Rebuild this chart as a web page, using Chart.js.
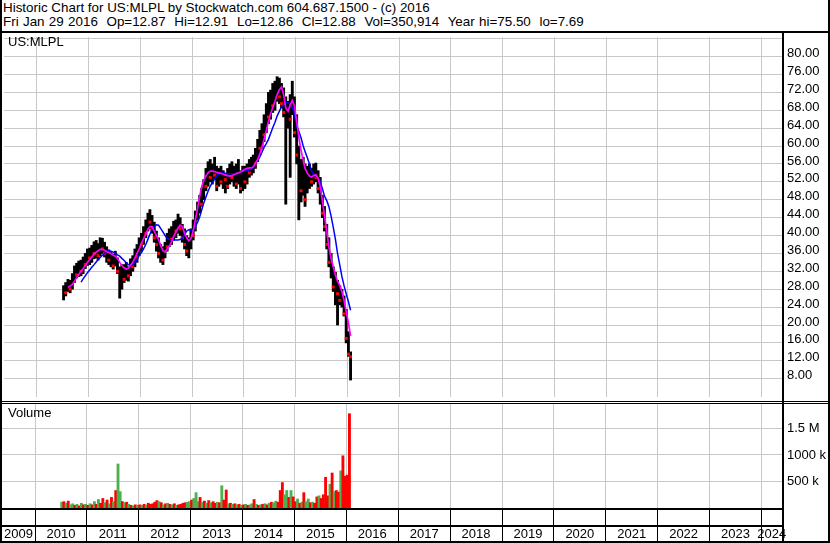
<!DOCTYPE html>
<html>
<head>
<meta charset="utf-8">
<title>US:MLPL historic chart</title>
<script src="https://cdn.jsdelivr.net/npm/chart.js@4.4.1/dist/chart.umd.min.js"></script>
<style>
  html, body { margin:0; padding:0; background:#fff; }
  #wrap { position:relative; width:830px; height:543px; overflow:hidden; background:#fff;
          font-family:"Liberation Sans", Arial, sans-serif; color:#000; }
  .txt { position:absolute; font-size:13px; line-height:15px; white-space:pre; color:#000; }
  .hdr { font-size:13.4px; }
  .ln { position:absolute; background:#000; }
  canvas { position:absolute; left:0; }
</style>
</head>
<body>
<div id="wrap">
  <canvas id="priceCanvas" width="830" height="368" style="top:33px;width:830px;height:368px"></canvas>
  <canvas id="volCanvas" width="830" height="142" style="top:401px;width:830px;height:142px"></canvas>
  <div class="txt hdr" style="left:3px;top:0px">Historic Chart for US:MLPL by Stockwatch.com 604.687.1500 - (c) 2016</div>
  <div class="txt hdr" style="left:3px;top:14px;word-spacing:0.6px">Fri Jan 29 2016  Op=12.87  Hi=12.91  Lo=12.86  Cl=12.88  Vol=350,914  Year hi=75.50  lo=7.69</div>
  <div class="txt" style="left:8px;top:34px">US:MLPL</div>
  <div class="txt" style="left:8px;top:405px">Volume</div>
  <div class="ln" style="left:0;top:31px;width:830px;height:2px"></div>
  <div class="ln" style="left:0;top:0;width:2px;height:543px"></div>
  <div class="ln" style="left:828px;top:0;width:2px;height:543px"></div>
  <div class="ln" style="left:0;top:541px;width:830px;height:2px"></div>
  <div class="ln" style="left:782px;top:33px;width:2px;height:510px"></div>
  <div class="ln" style="left:0;top:401px;width:830px;height:1px"></div>
  <div class="ln" style="left:0;top:403px;width:830px;height:1px"></div>
  <div class="ln" style="left:0;top:508px;width:782px;height:2px"></div>
  <div class="ln" style="left:0;top:525px;width:782px;height:2px"></div>
</div>
<script>
// ---------------- DATA ----------------
// semi-monthly bars (mid-points of each half month)
const dates = [
  '2010-07-08','2010-07-23','2010-08-08','2010-08-23','2010-09-08','2010-09-23','2010-10-08','2010-10-23','2010-11-08','2010-11-23','2010-12-08','2010-12-23',
  '2011-01-08','2011-01-23','2011-02-08','2011-02-23','2011-03-08','2011-03-23','2011-04-08','2011-04-23','2011-05-08','2011-05-23','2011-06-08','2011-06-23',
  '2011-07-08','2011-07-23','2011-08-08','2011-08-23','2011-09-08','2011-09-23','2011-10-08','2011-10-23','2011-11-08','2011-11-23','2011-12-08','2011-12-23',
  '2012-01-08','2012-01-23','2012-02-08','2012-02-23','2012-03-08','2012-03-23','2012-04-08','2012-04-23','2012-05-08','2012-05-23','2012-06-08','2012-06-23',
  '2012-07-08','2012-07-23','2012-08-08','2012-08-23','2012-09-08','2012-09-23','2012-10-08','2012-10-23','2012-11-08','2012-11-23','2012-12-08','2012-12-23',
  '2013-01-08','2013-01-23','2013-02-08','2013-02-23','2013-03-08','2013-03-23','2013-04-08','2013-04-23','2013-05-08','2013-05-23','2013-06-08','2013-06-23',
  '2013-07-08','2013-07-23','2013-08-08','2013-08-23','2013-09-08','2013-09-23','2013-10-08','2013-10-23','2013-11-08','2013-11-23','2013-12-08','2013-12-23',
  '2014-01-08','2014-01-23','2014-02-08','2014-02-23','2014-03-08','2014-03-23','2014-04-08','2014-04-23','2014-05-08','2014-05-23','2014-06-08','2014-06-23',
  '2014-07-08','2014-07-23','2014-08-08','2014-08-23','2014-09-08','2014-09-23','2014-10-08','2014-10-23','2014-11-08','2014-11-23','2014-12-08','2014-12-23',
  '2015-01-08','2015-01-23','2015-02-08','2015-02-23','2015-03-08','2015-03-23','2015-04-08','2015-04-23','2015-05-08','2015-05-23','2015-06-08','2015-06-23',
  '2015-07-08','2015-07-23','2015-08-08','2015-08-23','2015-09-08','2015-09-23','2015-10-08','2015-10-23','2015-11-08','2015-11-23','2015-12-08','2015-12-23',
  '2016-01-08','2016-01-23'
];

const lows = [
  25.6,26.5,27.5,27.2,28.0,29.5,30.5,30.8,31.0,31.5,32.6,33.3,
  33.5,34.0,34.8,35.0,34.5,35.5,36.0,35.2,34.0,33.5,33.0,32.5,33.2,31.5,26.0,28.0,29.5,30.0,29.8,31.0,32.0,33.0,34.0,35.5,
  36.5,38.0,39.5,41.0,41.5,40.5,38.5,36.5,35.0,34.0,33.5,35.0,36.5,37.5,38.0,39.0,39.5,40.5,40.0,38.5,37.0,35.5,35.0,37.0,
  39.0,41.0,43.5,45.0,46.5,48.0,50.0,51.0,52.0,51.5,52.5,50.0,51.0,51.5,50.5,49.5,50.5,51.5,52.0,51.0,50.5,51.5,49.5,50.0,
  50.5,51.5,53.0,53.5,54.0,55.0,56.5,58.0,59.5,61.0,63.0,65.0,66.0,67.5,68.0,70.0,69.5,68.5,66.5,47.0,64.0,53.0,67.0,62.0,
  56.0,43.5,47.5,49.0,46.5,49.5,50.5,51.0,51.5,52.0,49.5,47.0,44.0,41.0,37.0,33.0,30.5,27.5,24.5,20.0,24.5,24.0,22.0,16.0,
  13.0,7.7
];
const highs = [
  28.8,29.5,30.2,30.0,31.5,33.2,33.8,34.3,34.5,35.2,36.0,37.0,
  37.2,37.8,38.6,38.9,38.2,39.5,39.4,38.5,37.5,36.8,36.2,35.8,36.5,35.0,33.0,33.5,33.5,34.0,33.0,34.8,35.5,37.0,38.0,39.5,
  40.5,42.0,43.5,45.0,45.8,44.5,43.0,41.0,39.5,38.0,37.5,38.5,40.5,41.5,42.0,43.2,43.5,44.8,44.0,42.5,41.5,40.0,39.5,41.5,
  43.5,45.5,47.5,49.0,50.5,52.5,55.0,56.5,57.0,56.0,57.5,55.5,55.0,55.5,54.5,53.5,55.0,56.0,56.5,55.5,56.0,57.0,54.5,55.5,
  55.5,56.0,57.0,57.5,58.0,59.5,61.5,63.5,65.0,67.0,69.5,72.0,72.5,74.0,74.5,75.5,75.2,74.0,73.0,71.0,70.0,71.5,74.5,71.0,
  67.0,60.0,57.0,57.5,56.0,55.5,56.0,55.0,56.0,56.2,54.5,53.0,49.0,46.5,42.5,39.5,36.0,33.0,31.8,30.0,28.8,28.0,26.5,23.5,
  18.5,14.0
];
const closes = [
  28.2,27.2,29.6,28.0,31.0,32.5,31.2,33.8,32.0,34.6,33.5,36.5,
  35.0,37.2,36.0,38.3,35.5,38.9,37.0,36.0,36.8,34.5,35.6,33.2,35.9,32.0,32.4,33.0,30.2,33.5,31.0,34.2,33.0,36.4,35.2,39.0,
  38.0,41.5,40.5,44.5,43.0,41.5,39.5,38.0,36.0,36.5,34.5,38.0,37.5,41.0,39.2,42.8,41.0,44.2,41.5,39.5,38.0,36.5,38.8,41.0,
  40.0,45.0,47.0,48.5,47.0,52.0,51.0,56.0,53.0,55.5,53.5,51.0,54.5,52.0,54.0,52.5,51.0,55.5,53.0,55.0,51.5,56.5,50.5,55.0,
  52.0,55.5,54.0,57.0,57.5,56.0,61.0,59.5,64.5,62.5,69.0,66.5,72.0,69.0,74.0,75.0,71.0,69.5,67.5,68.5,69.5,66.0,73.5,63.0,
  58.0,59.0,50.0,56.5,48.0,54.5,55.5,52.0,55.5,53.0,50.5,52.5,45.0,42.0,38.0,34.0,35.5,28.5,30.5,27.0,25.5,27.5,22.5,17.0,
  13.5,12.9
];
// short moving average (magenta)
const maShort = [
  null,null,28.4,28.7,29.1,29.8,30.6,31.3,32.0,32.6,33.3,34.0,
  34.6,35.2,35.8,36.3,36.6,36.9,36.9,36.7,36.4,36.2,35.9,35.6,35.4,34.9,34.0,33.3,32.8,32.5,32.7,33.3,34.0,35.0,36.0,37.0,
  38.2,39.3,40.3,41.4,42.0,42.0,41.0,40.0,39.1,37.8,36.6,36.3,37.0,37.6,38.6,39.8,40.8,41.7,42.3,42.0,40.5,39.5,38.8,39.3,
  41.0,43.5,46.0,48.8,50.8,52.3,53.3,54.0,54.4,54.4,54.3,54.1,54.0,53.9,53.7,53.5,53.4,53.3,53.4,53.6,53.8,54.0,54.2,54.5,
  54.8,55.0,55.1,55.1,55.4,56.2,57.0,58.3,59.8,61.5,63.5,65.5,67.2,68.6,70.0,71.5,72.6,73.2,71.5,68.5,67.8,69.2,70.2,69.0,
  65.5,62.0,59.0,56.8,55.0,54.0,53.3,53.1,53.4,53.6,52.8,51.0,47.8,44.5,41.0,37.5,34.8,33.0,31.2,29.8,28.8,27.5,25.5,23.0,
  20.5,17.5
];
// long moving average (blue)
const maLong = [
  null,null,null,null,null,null,null,null,29.6,30.3,31.0,31.7,
  32.3,32.9,33.5,34.1,34.6,35.1,35.6,36.0,36.4,36.6,36.5,36.3,36.0,35.7,35.4,34.9,34.4,33.9,33.5,33.3,33.4,33.9,34.6,35.5,
  36.2,37.0,38.0,39.2,40.3,41.3,42.0,42.4,42.3,41.6,40.8,40.0,39.4,39.1,39.0,39.0,39.0,39.0,39.1,39.4,40.2,41.0,41.3,41.2,
  41.3,42.0,43.0,44.2,45.6,47.2,48.6,49.9,51.0,51.8,52.6,53.3,53.8,54.0,54.0,53.9,53.8,53.8,53.8,53.8,53.9,54.0,54.2,54.3,
  54.4,54.5,54.7,54.9,55.3,56.0,56.8,57.6,58.6,59.7,60.6,61.5,62.8,64.1,65.3,66.7,67.8,68.8,69.3,69.7,69.7,69.4,68.6,67.2,
  64.5,63.3,61.8,60.0,58.8,57.5,56.0,54.5,53.6,53.2,52.8,52.0,50.5,48.8,47.8,46.5,44.3,41.8,39.2,36.0,33.4,30.8,28.8,27.0,
  25.2,23.3
];
// volume, thousands of shares
const volumeK = [
  110,120,90,130,60,80,50,70,40,90,60,70,
  50,80,60,120,70,160,90,180,100,150,80,200,120,330,830,310,120,100,110,70,50,40,60,50,
  60,50,70,55,90,70,80,110,140,120,100,60,80,90,70,60,80,50,60,70,90,100,110,120,
  150,180,290,120,200,110,130,90,140,100,120,90,110,100,420,150,340,80,90,70,80,60,70,50,
  60,70,50,60,80,160,70,50,60,70,80,60,90,110,100,130,110,330,480,250,330,200,330,210,
  120,170,90,110,290,120,170,100,110,90,210,230,180,250,580,230,450,660,310,330,300,700,985,600,
  620,1780
];

const yearGrid = [2010,2011,2012,2013,2014,2015,2016,2017,2018,2019,2020,2021,2022,2023,2024];
const yearLabels = ['2009','2010','2011','2012','2013','2014','2015','2016','2017','2018','2019','2020','2021','2022','2023','2024'];
const priceTickValues = [8,12,16,20,24,28,32,36,40,44,48,52,56,60,64,68,72,76,80,84];
const priceTickLabels = ['8.00','12.00','16.00','20.00','24.00','28.00','32.00','36.00','40.00','44.00','48.00','52.00','56.00','60.00','64.00','68.00','72.00','76.00','80.00',''];
const volTickValues = [500000,1000000,1500000];
const volTickLabels = ['500 k','1000 k','1.5 M'];

// ---------------- SETUP ----------------
const X_MIN = 2009.364, X_MAX = 2024.396;
const PRICE_MIN = 3.911, PRICE_MAX = 84.373;
const VOL_MAX = 1981000;
const FONT = '"Liberation Sans", Arial, sans-serif';
Chart.defaults.font.family = FONT;
Chart.defaults.font.size = 13;
Chart.defaults.color = '#000';

function toYear(s) {
  const [y, m, d] = s.split('-').map(Number);
  const start = Date.UTC(y, 0, 1), end = Date.UTC(y + 1, 0, 1);
  return y + (Date.UTC(y, m - 1, d) - start) / (end - start);
}
const xs = dates.map(toYear);
const isDown = closes.map((c, i) => i > 0 && c < closes[i - 1]);

function zeroPad(s) { s.paddingLeft = 0; s.paddingRight = 0; s.paddingTop = 0; s.paddingBottom = 0; }
const gridX = {
  type: 'linear', min: X_MIN, max: X_MAX, offset: false,
  afterBuildTicks: s => { s.ticks = yearGrid.map(v => ({ value: v })); },
  afterFit: s => { s.height = 0; zeroPad(s); },
  grid: { color: '#c8c8c8', lineWidth: 1, drawTicks: false, offset: false },
  border: { display: false },
  ticks: { display: false }
};

// ---------------- PRICE CHART ----------------
new Chart(document.getElementById('priceCanvas'), {
  type: 'bar',
  data: {
    datasets: [
      { type: 'line', label: 'Short MA', data: maShort.map((v, i) => ({ x: xs[i], y: v })),
        borderColor: '#ff00ff', borderWidth: 1.7, pointRadius: 0, tension: 0, order: 0 },
      { type: 'line', label: 'Long MA', data: maLong.map((v, i) => ({ x: xs[i], y: v })),
        borderColor: '#0000ff', borderWidth: 1.5, pointRadius: 0, tension: 0, order: 1 },
      { type: 'line', label: 'Down close', data: closes.map((c, i) => ({ x: xs[i], y: isDown[i] ? c : null })),
        showLine: false, pointStyle: 'rect', pointRadius: 2.1, pointBorderWidth: 0,
        pointBackgroundColor: '#ff0000', order: 2 },
      { type: 'bar', label: 'Range', data: lows.map((lo, i) => ({ x: xs[i], y: [lo, highs[i]] })),
        backgroundColor: '#000', barThickness: 2.2, grouped: false, order: 3 }
    ]
  },
  options: {
    responsive: false, animation: false, events: [], devicePixelRatio: 1,
    layout: { padding: { left: 2, right: 0, top: 0, bottom: 0 } },
    plugins: { legend: { display: false }, tooltip: { enabled: false } },
    scales: {
      x: gridX,
      y: {
        type: 'linear', position: 'right', min: PRICE_MIN, max: PRICE_MAX,
        afterBuildTicks: s => { s.ticks = priceTickValues.map(v => ({ value: v })); },
        afterFit: s => { s.width = 48; zeroPad(s); },
        grid: { color: '#c8c8c8', lineWidth: 1, drawTicks: false },
        border: { display: false },
        ticks: { autoSkip: false, padding: 5, labelOffset: -3, color: '#000', font: { size: 13 },
                 callback: (v, i) => priceTickLabels[i] }
      }
    }
  }
});

// ---------------- VOLUME CHART ----------------
const yearSeparators = {
  id: 'yearSeparators',
  afterDraw(chart) {
    const ctx = chart.ctx, sx = chart.scales.x;
    ctx.save();
    ctx.fillStyle = '#000';
    yearGrid.forEach(v => {
      const px = Math.round(sx.getPixelForValue(v) - 0.5);
      ctx.fillRect(px, 109, 1, 32);
    });
    ctx.restore();
  }
};
const labelCenters = yearLabels.map(l => {
  const y = Number(l);
  return (Math.max(y, X_MIN) + Math.min(y + 1, X_MAX)) / 2;
});

new Chart(document.getElementById('volCanvas'), {
  type: 'bar',
  data: {
    datasets: [
      { type: 'bar', label: 'Volume', xAxisID: 'x', yAxisID: 'y',
        data: volumeK.map((v, i) => ({ x: xs[i], y: v * 1000 })),
        backgroundColor: isDown.map(d => d ? '#ff0000' : '#4caf50'),
        barThickness: 2.2, grouped: false }
    ]
  },
  options: {
    responsive: false, animation: false, events: [], devicePixelRatio: 1,
    layout: { padding: { left: 2, right: 0, top: 2, bottom: 0 } },
    plugins: { legend: { display: false }, tooltip: { enabled: false } },
    scales: {
      x: gridX,
      xl: {
        type: 'linear', axis: 'x', position: 'bottom', min: X_MIN, max: X_MAX, offset: false,
        afterBuildTicks: s => { s.ticks = labelCenters.map(v => ({ value: v })); },
        afterFit: s => { s.height = 35; zeroPad(s); },
        grid: { display: false, drawTicks: false },
        border: { display: false },
        ticks: { autoSkip: false, maxRotation: 0, minRotation: 0, padding: 19, color: '#000',
                 font: { size: 13 }, callback: (v, i) => yearLabels[i] }
      },
      y: {
        type: 'linear', position: 'right', min: 0, max: VOL_MAX,
        afterBuildTicks: s => { s.ticks = volTickValues.map(v => ({ value: v })); },
        afterFit: s => { s.width = 48; zeroPad(s); },
        grid: { color: '#c8c8c8', lineWidth: 1, drawTicks: false },
        border: { display: false },
        ticks: { autoSkip: false, padding: 5, color: '#000', font: { size: 13 },
                 callback: (v, i) => volTickLabels[i] }
      }
    }
  },
  plugins: [yearSeparators]
});
</script>
</body>
</html>
